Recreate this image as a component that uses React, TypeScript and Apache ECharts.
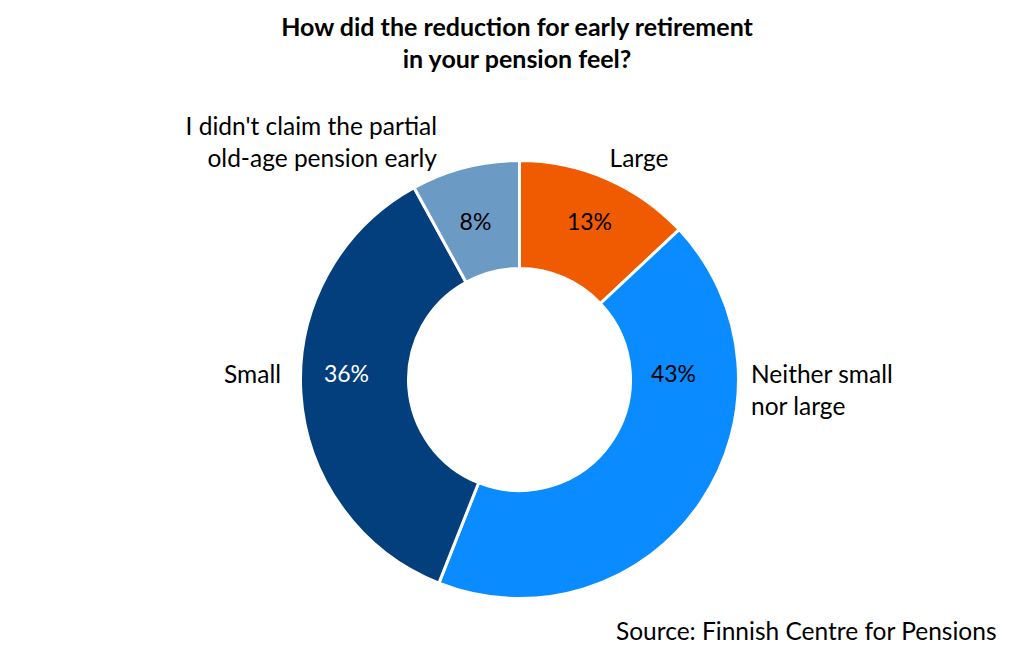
import React, { useEffect, useRef } from "react";
import * as echarts from "echarts";

const categories = [
  "Large",
  "Neither small\nnor large",
  "Small",
  "I didn't claim the partial\nold-age pension early",
];
const values = [13, 43, 36, 8];
const colors = ["#F05A00", "#0A8BFF", "#023F7C", "#6B9AC5"];
const pctColors = ["#000000", "#000000", "#FFFFFF", "#000000"];

const titleText = "How did the reduction for early retirement\nin your pension feel?";
const sourceText = "Source: Finnish Centre for Pensions";

// label anchors (styling only)
const pctPos = [
  [589.5, 221],
  [673.5, 373],
  [346.5, 373],
  [475.5, 221],
];
const namePos: [number, number, string][] = [
  [639, 157, "center"],
  [751, 389, "left"],
  [281, 373, "right"],
  [437, 141, "right"],
];

const FONT = "Lato, 'Noto Sans', sans-serif";

export default function App() {
  const ref = useRef<HTMLDivElement>(null);
  useEffect(() => {
    document.body.style.margin = "0";
    const chart = echarts.init(ref.current!, null, { renderer: "svg" });
    const data = values.map((v, i) => ({
      name: categories[i],
      value: v,
      itemStyle: { color: colors[i] },
      label: { color: pctColors[i] },
    }));
    chart.setOption({
      animation: false,
      backgroundColor: "#FFFFFF",
      title: [
        {
          text: titleText,
          left: 517,
          top: 10,
          padding: 0,
          textAlign: "center",
          textStyle: {
            fontFamily: FONT,
            fontWeight: "bold",
            fontSize: 25,
            lineHeight: 32,
            color: "#000",
          },
        },
        {
          text: sourceText,
          right: 27,
          top: 614,
          padding: 0,
          textStyle: {
            fontFamily: FONT,
            fontWeight: "normal",
            fontSize: 24.5,
            lineHeight: 32,
            color: "#000",
          },
        },
      ],
      series: [
        {
          type: "pie",
          center: [519.5, 379.5],
          radius: [111, 219],
          startAngle: 90,
          clockwise: true,
          silent: true,
          z: 1,
          itemStyle: { color: "rgba(0,0,0,0)", borderWidth: 0 },
          label: {
            show: true,
            position: "outside",
            formatter: "{b}",
            fontFamily: FONT,
            fontSize: 24.5,
            lineHeight: 32,
            color: "#000",
          },
          labelLine: { show: false },
          labelLayout: (p: any) => {
            const q = namePos[p.dataIndex];
            return { x: q[0], y: q[1], align: q[2], verticalAlign: "middle" };
          },
          data: values.map((v, i) => ({ name: categories[i], value: v })),
        },
        {
          type: "pie",
          center: [519.5, 379.5],
          radius: [111, 219],
          startAngle: 90,
          clockwise: true,
          silent: true,
          z: 2,
          itemStyle: { borderColor: "#FFFFFF", borderWidth: 3 },
          label: {
            show: true,
            position: "inside",
            formatter: "{c}%",
            fontFamily: FONT,
            fontSize: 23,
          },
          labelLine: { show: false },
          labelLayout: (p: any) => {
            const q = pctPos[p.dataIndex];
            return { x: q[0], y: q[1], align: "center", verticalAlign: "middle" };
          },
          data,
        },
      ],
    });
    return () => chart.dispose();
  }, []);
  return <div ref={ref} style={{ width: 1024, height: 656 }} />;
}
